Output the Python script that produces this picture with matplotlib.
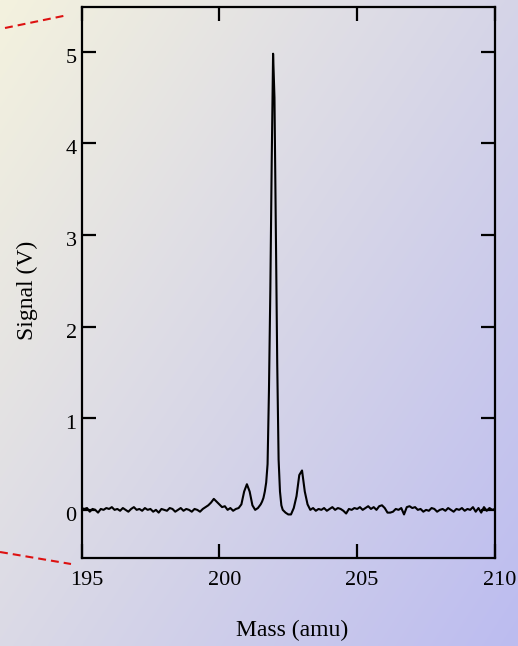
import numpy as np
import matplotlib
matplotlib.use("Agg")
import matplotlib.pyplot as plt
from matplotlib.lines import Line2D
import matplotlib.transforms as mtransforms

plt.rcParams['font.family'] = ['Liberation Serif', 'DejaVu Serif']

# ---- data ----
mass_a = np.round(np.arange(195.0, 201.41, 0.1), 2)
signal_a = [0.02, 0.01, 0.02, -0.02, 0.01, 0.0, -0.03, 0.01, 0.00, 0.02,
            0.01, 0.03, 0.0, 0.01, -0.01, 0.02, 0.0, -0.02, 0.01, 0.03,
            0.0, 0.01, -0.01, 0.02, 0.0, 0.01, -0.02, 0.0, -0.03, 0.01,
            0.0, -0.01, 0.02, 0.01, -0.02, 0.0, 0.02, -0.01, 0.01, 0.0,
            -0.02, 0.01, 0.0, -0.02, 0.01, 0.03, 0.05, 0.08, 0.12, 0.09,
            0.06, 0.03, 0.04, 0.0, 0.02, -0.01, 0.01, 0.02, 0.06, 0.2,
            0.28, 0.2, 0.05, 0.0, 0.02]
mass_b = np.round(np.arange(201.45, 202.31, 0.05), 2)
signal_b = [0.04, 0.06, 0.09, 0.13, 0.2, 0.3, 0.5, 1.3, 2.4, 3.8,
            4.98, 4.5, 3.0, 1.6, 0.55, 0.2, 0.05, 0.0]
mass_c = np.round(np.arange(202.4, 210.01, 0.1), 2)
signal_c = [-0.03, -0.05, -0.05, 0.02, 0.15, 0.38,
            0.43, 0.2, 0.06, 0.0, 0.02, -0.01, 0.01, 0.0, 0.02, -0.01,
            0.01, 0.03, 0.0, 0.02, 0.01, -0.01, -0.04, 0.01, 0.0, 0.02,
            0.01, 0.03, 0.0, 0.02, 0.04, 0.01, 0.03, 0.0, 0.04, 0.05,
            0.02, -0.03, -0.03, -0.02, 0.01, 0.0, 0.02, -0.05, 0.03, 0.04,
            0.02, 0.03, 0.0, 0.01, -0.02, 0.0, -0.01, 0.02, 0.01, -0.02,
            0.0, 0.01, -0.01, 0.02, 0.0, -0.02, 0.01, 0.0, 0.02, -0.01,
            0.01, 0.0, 0.03, -0.02, 0.02, -0.03, 0.03, -0.01, 0.02, 0.0,
            0.01]

mass = np.concatenate([mass_a, mass_b, mass_c])
signal = np.concatenate([signal_a, signal_b, signal_c])

x_ticks = [195, 200, 205, 210]
y_ticks = [0, 1, 2, 3, 4, 5]

W, H = 518, 646
fig = plt.figure(figsize=(W / 100, H / 100), dpi=100)

# background gradient
bg = fig.add_axes([0, 0, 1, 1], zorder=-10)
gx, gy = np.meshgrid(np.linspace(0, 1, 300), np.linspace(0, 1, 300))
t = (gx * 0.55 + gy * 0.45)
c0 = np.array([244, 242, 222]) / 255.0
c1 = np.array([188, 188, 240]) / 255.0
img = c0[None, None, :] * (1 - t[..., None]) + c1[None, None, :] * t[..., None]
bg.imshow(img, aspect='auto', extent=[0, 1, 1, 0])
bg.set_xlim(0, 1)
bg.set_ylim(1, 0)
bg.axis('off')

left, right = 81.5 / W, 495 / W
top, bottom = 1 - 7 / H, 1 - 557.5 / H
ax = fig.add_axes([left, bottom, right - left, top - bottom])
ax.set_facecolor('none')
ax.plot(mass, signal, color='black', lw=1.5)
ax.set_xlim(195, 210)
ax.set_ylim(-0.52, 5.49)
ax.set_xticks(x_ticks)
ax.set_yticks(y_ticks)
ax.tick_params(direction='in', length=10, width=1.6, labelsize=16,
               top=True, right=True, bottom=True, left=True)
ax.tick_params(axis='x', pad=10)
ax.tick_params(axis='y', pad=3.5)
for sp in ax.spines.values():
    sp.set_linewidth(1.6)

off_x = mtransforms.ScaledTranslation(5 / 100, 0, fig.dpi_scale_trans)
for lab in ax.get_xticklabels():
    lab.set_transform(lab.get_transform() + off_x)
off_y = mtransforms.ScaledTranslation(0, -4 / 100, fig.dpi_scale_trans)
for lab in ax.get_yticklabels():
    lab.set_transform(lab.get_transform() + off_y)

fig.text(27 / W, 1 - 290 / H, 'Signal (V)', rotation=90, fontsize=17,
         ha='center', va='center')
fig.text(292 / W, 1 - 630 / H, 'Mass (amu)', fontsize=17,
         ha='center', va='center')

red = '#dd1111'
for (x0, y0, x1, y1) in [(5, 28, 68, 15), (0, 552, 71, 564)]:
    fig.add_artist(Line2D([x0 / W, x1 / W], [1 - y0 / H, 1 - y1 / H],
                          transform=fig.transFigure, color=red, lw=1.5,
                          linestyle=(0, (3.8, 2.4))))

fig.savefig('out.png', dpi=100)
